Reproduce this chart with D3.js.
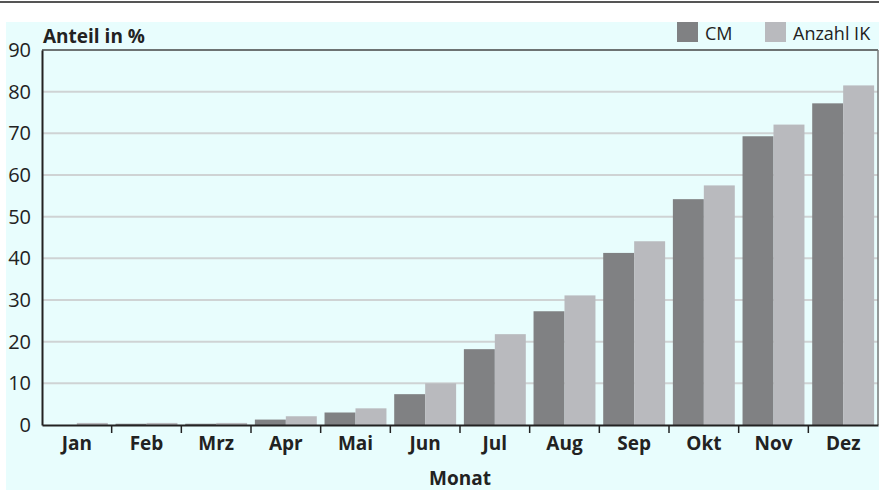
<!DOCTYPE html>
<html><head><meta charset="utf-8">
<script src="https://cdn.jsdelivr.net/npm/d3@7"></script>
<style>body{margin:0;background:#fff}svg{display:block}text{font-family:"Open Sans","DejaVu Sans Condensed",sans-serif}</style>
</head><body>
<svg id="c" width="879" height="491"></svg>
<script>
const months = ["Jan","Feb","Mrz","Apr","Mai","Jun","Jul","Aug","Sep","Okt","Nov","Dez"];
const seriesNames = ["CM","Anzahl IK"];
const cmValues = [0, 0.3, 0.3, 1.3, 3.0, 7.4, 18.2, 27.3, 41.3, 54.2, 69.3, 77.2];
const ikValues = [0.5, 0.5, 0.5, 2.1, 4.0, 10.0, 21.8, 31.1, 44.1, 57.5, 72.1, 81.5];
const yTicks = [0,10,20,30,40,50,60,70,80,90];
const colors = ["#808183","#b9babe"];

const svg = d3.select("#c");
const m = {l:42, r:878, t:50, b:425};
svg.append("rect").attr("x",6).attr("y",22).attr("width",873).attr("height",468).attr("fill","#e8fdfd");
svg.append("line").attr("x1",0).attr("x2",879).attr("y1",2).attr("y2",2).attr("stroke","#555").attr("stroke-width",2);

const x = d3.scaleBand().domain(months).range([m.l,m.r]).paddingInner(0).paddingOuter(0);
const xs = d3.scaleBand().domain(seriesNames).range([0,x.bandwidth()]).paddingOuter(0.125).paddingInner(0);
const y = d3.scaleLinear().domain([0,90]).range([m.b,m.t]);

// grid
svg.append("g").selectAll("line").data(yTicks.filter(t=>t>0&&t<90)).join("line")
  .attr("x1",m.l).attr("x2",m.r).attr("y1",d=>y(d)).attr("y2",d=>y(d))
  .attr("stroke","#cfd3d4").attr("stroke-width",2);

const data = months.map((mo,i)=>({mo, vals:[cmValues[i], ikValues[i]]}));
const g = svg.append("g").selectAll("g").data(data).join("g").attr("transform",d=>`translate(${x(d.mo)},0)`);
g.selectAll("rect").data(d=>d.vals.map((v,j)=>({v,s:seriesNames[j],j}))).join("rect")
  .attr("x",d=>xs(d.s)).attr("width",xs.bandwidth())
  .attr("y",d=>y(d.v)).attr("height",d=>m.b-y(d.v)).attr("fill",d=>colors[d.j]);

// frame
svg.append("line").attr("x1",m.l).attr("x2",m.r).attr("y1",m.t).attr("y2",m.t).attr("stroke","#444").attr("stroke-width",1.5);
svg.append("line").attr("x1",m.r).attr("x2",m.r).attr("y1",m.t).attr("y2",m.b).attr("stroke","#777").attr("stroke-width",1.5);

// y axis
const ya = svg.append("g").attr("transform",`translate(${m.l},0)`)
  .call(d3.axisLeft(y).tickValues(yTicks).tickSize(0).tickPadding(11));
ya.select(".domain").attr("stroke","#222").attr("stroke-width",2);
ya.selectAll("text").attr("font-size",20).attr("fill","#222").style("font-family",'"Open Sans",sans-serif');

// x axis
const xa = svg.append("g").attr("transform",`translate(0,${m.b})`)
  .call(d3.axisBottom(x).tickSize(0).tickPadding(12));
xa.select(".domain").attr("stroke","#222").attr("stroke-width",2);
xa.selectAll("text").attr("font-size",19).attr("font-weight","bold").attr("fill","#222");
svg.append("g").selectAll("line").data(d3.range(1,12)).join("line")
  .attr("x1",i=>m.l+i*x.step()).attr("x2",i=>m.l+i*x.step()).attr("y1",m.b).attr("y2",m.b+8)
  .attr("stroke","#222").attr("stroke-width",1.5);

svg.append("text").attr("x",43).attr("y",43).attr("font-size",19).attr("font-weight","bold").attr("fill","#222").text("Anteil in %");
svg.append("text").attr("x",(m.l+m.r)/2).attr("y",485).attr("text-anchor","middle").attr("font-size",19).attr("font-weight","bold").attr("fill","#222").text("Monat");

// legend
const legX = [677, 765];
seriesNames.forEach((s,i)=>{
  svg.append("rect").attr("x",legX[i]).attr("y",22).attr("width",21).attr("height",20).attr("fill",colors[i]);
  svg.append("text").attr("x",legX[i]+28).attr("y",40).attr("font-size",18).attr("fill","#222").text(s);
});
</script>
</body></html>
